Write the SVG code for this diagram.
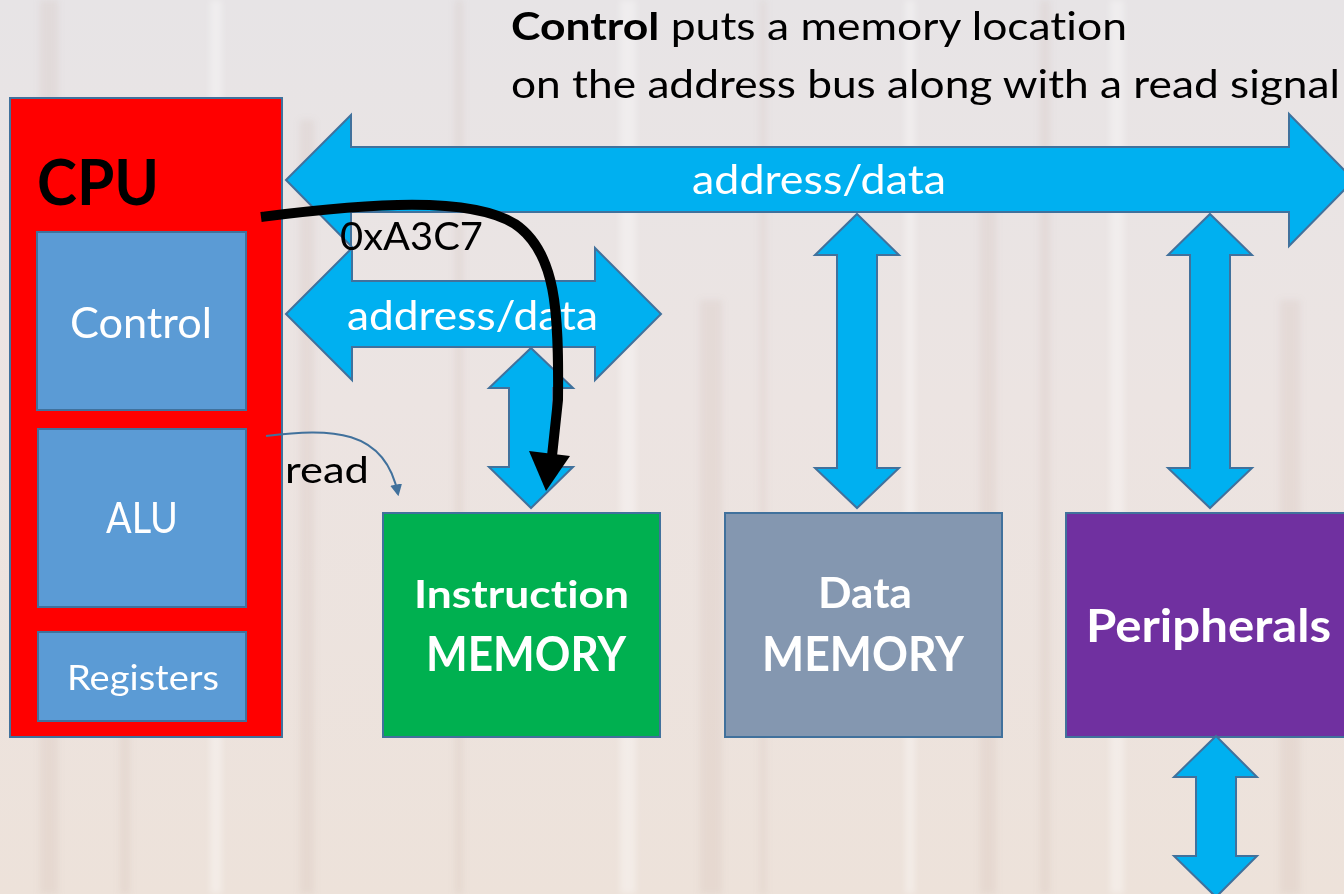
<svg xmlns="http://www.w3.org/2000/svg" width="1344" height="894" viewBox="0 0 1344 894">
  <defs>
    <style>
      .lbl { font-family: Lato, "Open Sans", "Liberation Sans", sans-serif; font-variant-ligatures: none; font-feature-settings: "liga" 0; }
      .bold { font-weight: 700; }
      .white { fill: #FFFFFF; }
      .black { fill: #000000; }
      .box { stroke: #41719C; stroke-width: 2; }
      .bus { fill: #00B0F0; stroke: #41719C; stroke-width: 2; stroke-linejoin: miter; }
      .stripe { fill: #BFA99C; opacity: 0.16; }
      .stripe2 { fill: #FFFFFF; opacity: 0.35; }
    </style>
    <linearGradient id="bg" x1="0" y1="0" x2="0" y2="1">
      <stop offset="0" stop-color="#E7E4E6"/>
      <stop offset="0.45" stop-color="#ECE4E2"/>
      <stop offset="1" stop-color="#EDE2DA"/>
    </linearGradient>
    <filter id="soft" x="-5%" y="-5%" width="110%" height="110%">
      <feGaussianBlur stdDeviation="3"/>
    </filter>
    <marker id="readHead" viewBox="0 0 10 10" refX="8" refY="5" markerWidth="6" markerHeight="6" orient="auto">
      <path d="M0,0 L10,5 L0,10 z" fill="#41719C"/>
    </marker>
  </defs>

  <!-- faded die-shot backdrop -->
  <rect x="0" y="0" width="1344" height="894" fill="url(#bg)"/>
  <g id="backdrop" filter="url(#soft)">
    <rect class="stripe" x="40" y="0" width="18" height="894"/>
    <rect class="stripe" x="120" y="380" width="10" height="514"/>
    <rect class="stripe" x="300" y="120" width="14" height="774"/>
    <rect class="stripe" x="455" y="0" width="8" height="894"/>
    <rect class="stripe" x="700" y="300" width="22" height="594"/>
    <rect class="stripe" x="760" y="0" width="6" height="894"/>
    <rect class="stripe" x="980" y="200" width="16" height="694"/>
    <rect class="stripe" x="1040" y="0" width="10" height="894"/>
    <rect class="stripe" x="1280" y="300" width="20" height="594"/>
    <rect class="stripe2" x="210" y="0" width="12" height="894"/>
    <rect class="stripe2" x="620" y="0" width="16" height="894"/>
    <rect class="stripe2" x="905" y="0" width="10" height="894"/>
    <rect class="stripe2" x="1110" y="0" width="14" height="894"/>
  </g>

  <!-- heading -->
  <text class="lbl black" x="511" y="40" font-size="38" textLength="616" lengthAdjust="spacingAndGlyphs"><tspan class="bold">Control</tspan> puts a memory location</text>
  <text class="lbl black" x="511" y="98" font-size="38" textLength="829" lengthAdjust="spacingAndGlyphs">on the address bus along with a read signal</text>

  <!-- CPU block -->
  <g id="cpu">
    <rect class="box" x="10" y="98" width="272" height="639" fill="#FF0000"/>
    <text class="lbl bold black" x="37" y="205" font-size="64" textLength="122" lengthAdjust="spacingAndGlyphs">CPU</text>
  </g>
  <g id="control">
    <rect class="box" x="37" y="232" width="209" height="178" fill="#5B9BD5"/>
    <text class="lbl white" x="70" y="338" font-size="42" textLength="142" lengthAdjust="spacingAndGlyphs">Control</text>
  </g>
  <g id="alu">
    <rect class="box" x="38" y="429" width="208" height="178" fill="#5B9BD5"/>
    <text class="lbl white" x="106" y="533" font-size="42" textLength="72" lengthAdjust="spacingAndGlyphs">ALU</text>
  </g>
  <g id="registers">
    <rect class="box" x="38" y="632" width="208" height="89" fill="#5B9BD5"/>
    <text class="lbl white" x="67" y="690" font-size="34" textLength="152" lengthAdjust="spacingAndGlyphs">Registers</text>
  </g>

  <!-- memories and peripherals -->
  <g id="instruction-memory">
    <rect class="box" x="383" y="513" width="277" height="224" fill="#00B050"/>
    <text class="lbl bold white" x="414" y="608" font-size="38" textLength="215" lengthAdjust="spacingAndGlyphs">Instruction</text>
    <text class="lbl bold white" x="426" y="671" font-size="47" textLength="200" lengthAdjust="spacingAndGlyphs">MEMORY</text>
  </g>
  <g id="data-memory">
    <rect class="box" x="725" y="513" width="277" height="224" fill="#8497B0"/>
    <text class="lbl bold white" x="818" y="608" font-size="42" textLength="94" lengthAdjust="spacingAndGlyphs">Data</text>
    <text class="lbl bold white" x="762" y="671" font-size="47" textLength="202" lengthAdjust="spacingAndGlyphs">MEMORY</text>
  </g>
  <g id="peripherals">
    <rect class="box" x="1066" y="513" width="290" height="224" fill="#7030A0"/>
    <text class="lbl bold white" x="1086" y="642" font-size="45" textLength="245" lengthAdjust="spacingAndGlyphs">Peripherals</text>
  </g>

  <!-- buses and signal paths -->
  <g id="connectors">
    <polygon id="system-bus" class="bus" points="286,180 351,115 351,147 1289,147 1289,114 1354,180 1289,246 1289,212 351,212 351,246"/>
    <polygon id="instruction-bus" class="bus" points="286,314 352,248 352,281 595,281 595,248 661,314 595,380 595,347 352,347 352,380"/>
    <polygon id="imem-link" class="bus" points="531,348 573,388 553,388 553,467 573,467 531,508 489,467 509,467 509,388 489,388"/>
    <polygon id="dmem-link" class="bus" points="857,214 899,255 877,255 877,468 899,468 857,508 815,468 837,468 837,255 815,255"/>
    <polygon id="periph-link" class="bus" points="1210,214 1252,255 1230,255 1230,468 1252,468 1210,508 1168,468 1190,468 1190,255 1168,255"/>
    <polygon id="periph-external" class="bus" points="1216,736 1257,777 1236,777 1236,856 1257,856 1216,897 1174,856 1196,856 1196,777 1174,777"/>

    <text class="lbl white" x="692" y="194" font-size="40" textLength="254" lengthAdjust="spacingAndGlyphs">address/data</text>
    <text class="lbl white" x="347" y="330" font-size="40" textLength="251" lengthAdjust="spacingAndGlyphs">address/data</text>

    <!-- read strobe -->
    <path id="read-signal" d="M266,436 C330,428 385,428 398,494" fill="none" stroke="#41719C" stroke-width="2" marker-end="url(#readHead)"/>
    <text class="lbl black" x="285" y="483" font-size="36" textLength="84" lengthAdjust="spacingAndGlyphs">read</text>

    <!-- address flow from Control to instruction memory -->
    <text class="lbl black" x="340" y="250" font-size="38" textLength="143" lengthAdjust="spacingAndGlyphs">0xA3C7</text>
    <path id="address-flow" d="M261,217 C370,203 470,196 515,224 C556,252 559,310 558,400 L552,456" fill="none" stroke="#000000" stroke-width="10"/>
    <polygon points="529,451 570,456 546,491" fill="#000000"/>
  </g>
</svg>
